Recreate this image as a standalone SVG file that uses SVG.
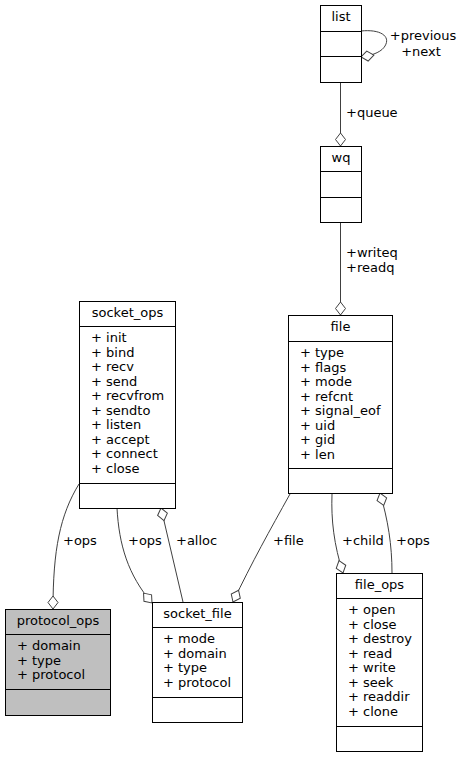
<svg xmlns="http://www.w3.org/2000/svg" width="463" height="757" viewBox="0 0 463 757">
<style>
text{font-family:"DejaVu Sans","Liberation Sans",sans-serif;font-size:13px;fill:#000}
.t{text-anchor:middle}
.box{fill:#fff;stroke:#000;stroke-width:1}
.gray{fill:#bfbfbf}
.sep{stroke:#000;stroke-width:1}
.e{fill:none;stroke:#404040;stroke-width:1}
</style>
<defs>
<marker id="od" markerUnits="userSpaceOnUse" markerWidth="16" markerHeight="12" refX="13" refY="5" orient="auto" viewBox="-1 -1 15 12">
<path d="M0,5 L6.5,0 L13,5 L6.5,10 Z" fill="#fff" stroke="#404040" stroke-width="1"/>
</marker>
</defs>
<rect width="463" height="757" fill="#fff"/>
<g id="connectors">
<path class="e" d="M361,31 C380,29 391,36 385,46 C382,51 375,55 361,57" marker-end="url(#od)"/>
<path class="e" d="M340.5,82 L340.5,146" marker-end="url(#od)"/>
<path class="e" d="M340.5,222 L340.5,315" marker-end="url(#od)"/>
<path class="e" d="M79,484 C60,515 53,550 53,609" marker-end="url(#od)"/>
<path class="e" d="M117,508 C119,545 128,575 152,603" marker-end="url(#od)"/>
<path class="e" d="M183,602 L161,508" marker-end="url(#od)"/>
<path class="e" d="M290,494 C270,530 252,562 233,602" marker-end="url(#od)"/>
<path class="e" d="M332,494 C331,520 334,545 343,573" marker-end="url(#od)"/>
<path class="e" d="M392,573 C392,545 388,520 380,493" marker-end="url(#od)"/>
<text class="t" x="423" y="39.5">+previous</text>
<text class="t" x="421" y="56">+next</text>
<text x="346" y="117">+queue</text>
<text x="346" y="257">+writeq</text>
<text x="346" y="271.5">+readq</text>
<text x="63" y="544.5">+ops</text>
<text x="128" y="544.5">+ops</text>
<text x="176" y="544.5">+alloc</text>
<text x="273" y="544.5">+file</text>
<text x="342" y="544.5">+child</text>
<text x="396" y="544.5">+ops</text>
</g>
<g id="list">
<rect class="box" x="320.5" y="5.5" width="41" height="77"/>
<line class="sep" x1="320.5" y1="31.5" x2="361.5" y2="31.5"/>
<line class="sep" x1="320.5" y1="56.5" x2="361.5" y2="56.5"/>
<text class="t" x="341" y="21">list</text>
</g>
<g id="wq">
<rect class="box" x="320.5" y="146.5" width="41" height="76"/>
<line class="sep" x1="320.5" y1="171.5" x2="361.5" y2="171.5"/>
<line class="sep" x1="320.5" y1="197.5" x2="361.5" y2="197.5"/>
<text class="t" x="341" y="162">wq</text>
</g>
<g id="file">
<rect class="box" x="288.5" y="315.5" width="104" height="178"/>
<line class="sep" x1="288.5" y1="341.5" x2="392.5" y2="341.5"/>
<line class="sep" x1="288.5" y1="468.5" x2="392.5" y2="468.5"/>
<text class="t" x="340.5" y="331">file</text>
<text x="300" y="357">+ type</text>
<text x="300" y="371.5">+ flags</text>
<text x="300" y="386">+ mode</text>
<text x="300" y="400.5">+ refcnt</text>
<text x="300" y="415">+ signal_eof</text>
<text x="300" y="429.5">+ uid</text>
<text x="300" y="444">+ gid</text>
<text x="300" y="458.5">+ len</text>
</g>
<g id="socket_ops">
<rect class="box" x="79.5" y="301.5" width="96" height="207"/>
<line class="sep" x1="79.5" y1="326.5" x2="175.5" y2="326.5"/>
<line class="sep" x1="79.5" y1="483.5" x2="175.5" y2="483.5"/>
<text class="t" x="127.5" y="317">socket_ops</text>
<text x="91" y="342">+ init</text>
<text x="91" y="356.5">+ bind</text>
<text x="91" y="371">+ recv</text>
<text x="91" y="385.5">+ send</text>
<text x="91" y="400">+ recvfrom</text>
<text x="91" y="414.5">+ sendto</text>
<text x="91" y="429">+ listen</text>
<text x="91" y="443.5">+ accept</text>
<text x="91" y="458">+ connect</text>
<text x="91" y="472.5">+ close</text>
</g>
<g id="protocol_ops">
<rect class="box gray" x="5.5" y="609.5" width="105" height="106"/>
<line class="sep" x1="5.5" y1="634.5" x2="110.5" y2="634.5"/>
<line class="sep" x1="5.5" y1="689.5" x2="110.5" y2="689.5"/>
<text class="t" x="58" y="625">protocol_ops</text>
<text x="17" y="650">+ domain</text>
<text x="17" y="664.5">+ type</text>
<text x="17" y="679">+ protocol</text>
</g>
<g id="socket_file">
<rect class="box" x="152.5" y="602.5" width="90" height="120"/>
<line class="sep" x1="152.5" y1="627.5" x2="242.5" y2="627.5"/>
<line class="sep" x1="152.5" y1="697.5" x2="242.5" y2="697.5"/>
<text class="t" x="197.5" y="618">socket_file</text>
<text x="163" y="643">+ mode</text>
<text x="163" y="657.5">+ domain</text>
<text x="163" y="672">+ type</text>
<text x="163" y="686.5">+ protocol</text>
</g>
<g id="file_ops">
<rect class="box" x="336.5" y="573.5" width="86" height="178"/>
<line class="sep" x1="336.5" y1="598.5" x2="422.5" y2="598.5"/>
<line class="sep" x1="336.5" y1="726.5" x2="422.5" y2="726.5"/>
<text class="t" x="379.5" y="589">file_ops</text>
<text x="348" y="614">+ open</text>
<text x="348" y="628.5">+ close</text>
<text x="348" y="643">+ destroy</text>
<text x="348" y="657.5">+ read</text>
<text x="348" y="672">+ write</text>
<text x="348" y="686.5">+ seek</text>
<text x="348" y="701">+ readdir</text>
<text x="348" y="715.5">+ clone</text>
</g>
</svg>
